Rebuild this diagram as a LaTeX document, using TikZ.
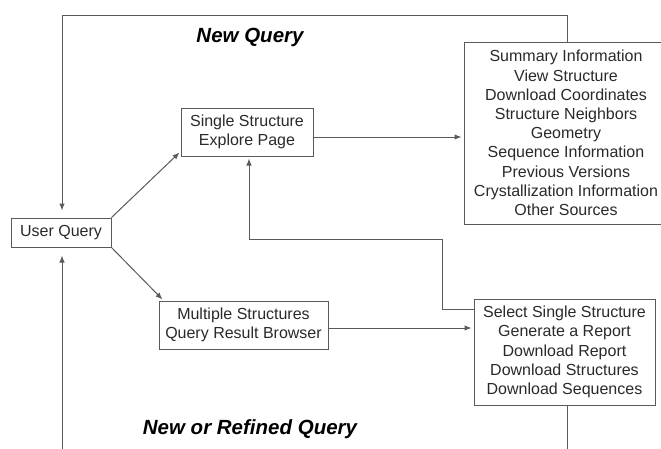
\documentclass[tikz,border=0pt]{standalone}
\usepackage{fontspec}
\setmainfont{Liberation Sans}
\usetikzlibrary{arrows.meta,calc}
\definecolor{linegray}{HTML}{5A5A5A}
\definecolor{textgray}{HTML}{2A2A2A}
\begin{document}
\begin{tikzpicture}[x=1pt,y=-1pt,
  box/.style={draw=linegray,line width=1pt,fill=white,inner sep=0pt,
    align=center,text=textgray,font=\fontsize{16}{19.2}\selectfont},
  heading/.style={text=black,font=\fontsize{20.5}{24}\selectfont\bfseries\itshape},
  flow/.style={draw=linegray,line width=1pt},
  arr/.style={flow,-{Latex[length=7pt,width=5.5pt]}}]
\useasboundingbox (0,0) rectangle (661,448);
\clip (0,0) rectangle (661,448);
\fill[white] (0,0) rectangle (661,448);

% boxes
\node[box,minimum width=100pt,minimum height=29pt] (uq) at (61,232.5) {User Query};
\node[box,minimum width=132pt,minimum height=48pt] (ss) at (247,132) {Single Structure\\Explore Page};
\node[box,minimum width=169pt,minimum height=48pt] (mult) at (243.5,325) {Multiple Structures\\Query Result Browser};
\node[box,minimum width=204pt,minimum height=182pt] (sum) at (566,133) {Summary Information\\View Structure\\Download Coordinates\\Structure Neighbors\\Geometry\\Sequence Information\\Previous Versions\\Crystallization Information\\Other Sources};
\node[box,minimum width=181pt,minimum height=106pt] (sel) at (564.5,352) {Select Single Structure\\Generate a Report\\Download Report\\Download Structures\\Download Sequences};

% headings
\node[heading] (nq) at (250,37) {New Query};
\node[heading] (nrq) at (250,429) {New or Refined Query};

% corner points of the routed connectors
\coordinate (topR) at (567,15);
\coordinate (topL) at (62,15);
\coordinate (selOut) at (474,309);
\coordinate (bendA) at (442,309);
\coordinate (bendB) at (442,239);
\coordinate (bendC) at (249,239);
\coordinate (selDown) at (567,405);
\coordinate (botR) at (567,452);
\coordinate (botL) at (62,452);

% new query loop back to the user
\draw[arr,shorten >=7pt] (sum.north -| topR) -- (topR) -- (topL) -- (topL |- uq.north);

% user query to both result pages
\draw[arr] (uq.north east) -- ($(ss.south west)+(-1,-4)$);
\draw[arr] (uq.south east) -- ($(mult.north west)+(4,-1)$);

% pages to their option lists
\draw[arr,shorten >=2pt] (ss.east |- 0,137) -- (sum.west |- 0,137);
\draw[arr,shorten >=2pt] (mult.east |- 0,328) -- (sel.west |- 0,328);

% select single structure back to the explore page
\draw[arr,shorten >=2pt] (selOut) -- (bendA) -- (bendB) -- (bendC) -- (bendC |- ss.south);

% refined query loop
\draw[flow] (sel.south -| selDown) -- (botR);
\draw[arr,shorten >=8pt] (botL) -- (botL |- uq.south);
\end{tikzpicture}
\end{document}
